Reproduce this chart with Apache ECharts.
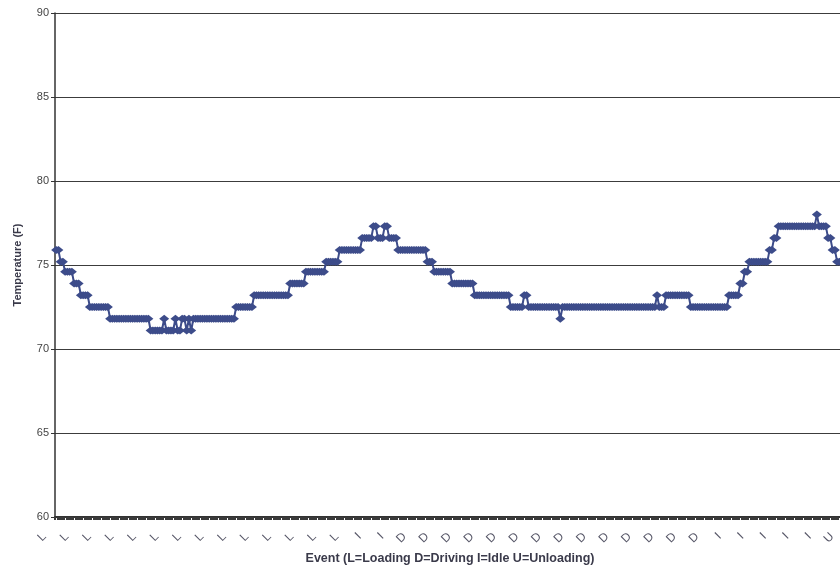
<!DOCTYPE html>
<html>
<head>
<meta charset="utf-8">
<script src="https://cdn.jsdelivr.net/npm/echarts@6/dist/echarts.min.js"></script>
<style>
    html, body { margin: 0; padding: 0; overflow: hidden; background: #fff; }
    #chart { width: 860px; height: 567px; }
</style>
</head>
<body>
<div id="chart"></div>
<script>
// temperature readings as [value, number of points in a row]
var tempRuns = [
    [75.9, 2], [75.2, 2], [74.6, 4], [73.9, 3], [73.2, 4], [72.5, 9], [71.8, 18],
    [71.1, 6], [71.8, 1], [71.1, 4], [71.8, 1], [71.1, 2], [71.8, 2], [71.1, 1],
    [71.8, 1], [71.1, 1], [71.8, 19], [72.5, 8], [73.2, 16], [73.9, 7], [74.6, 9],
    [75.2, 6], [75.9, 10], [76.6, 5], [77.3, 2], [76.6, 3], [77.3, 2], [76.6, 4],
    [75.9, 13], [75.2, 3], [74.6, 8], [73.9, 10], [73.2, 16], [72.5, 6], [73.2, 2],
    [72.5, 14], [71.8, 1], [72.5, 42], [73.2, 1], [72.5, 3], [73.2, 11], [72.5, 17],
    [73.2, 5], [73.9, 2], [74.6, 2], [75.2, 9], [75.9, 2], [76.6, 2], [77.3, 17],
    [78.0, 1], [77.3, 4], [76.6, 2], [75.9, 2], [75.2, 4]
];
// event of each reading (L=Loading D=Driving I=Idle U=Unloading)
var eventRuns = [['L', 140], ['I', 20], ['D', 140], ['I', 50], ['U', 1]];
var yTicks = [60, 65, 70, 75, 80, 85, 90];

function unrun(runs) {
    var out = [];
    runs.forEach(function (r) {
        for (var k = 0; k < r[1]; k++) out.push(r[0]);
    });
    return out;
}
var temps = unrun(tempRuns);
var events = unrun(eventRuns);

var myChart = echarts.init(document.getElementById('chart'));
var option = {
    animation: false,
    textStyle: { fontFamily: 'Liberation Sans, Arial, sans-serif' },
    grid: { left: 55, right: 15, top: 13, bottom: 50, outerBoundsMode: 'none', containLabel: false },
    xAxis: {
        type: 'category',
        data: events,
        name: 'Event (L=Loading D=Driving I=Idle U=Unloading)',
        nameLocation: 'middle',
        nameGap: 34,
        nameTextStyle: { fontSize: 12.5, fontWeight: 'bold', color: '#3a3a4a' },
        axisLine: { lineStyle: { color: '#333', width: 2 } },
        axisTick: { show: true, interval: 0, length: 3, lineStyle: { color: '#3a3a3a', width: 2 } },
        axisLabel: {
            interval: 9,
            rotate: 45,
            margin: 6,
            fontSize: 12,
            color: '#556',
            formatter: function (v) { return v + '     '; }
        }
    },
    yAxis: {
        type: 'value',
        min: yTicks[0],
        max: yTicks[yTicks.length - 1],
        interval: 5,
        name: 'Temperature (F)',
        nameLocation: 'middle',
        nameGap: 32,
        nameTextStyle: { fontSize: 11, fontWeight: 'bold', color: '#3a3a4a' },
        axisLine: { show: true, lineStyle: { color: '#333', width: 1.5 } },
        axisTick: { show: true, length: 4, lineStyle: { color: '#333' } },
        axisLabel: { fontSize: 11, color: '#444', margin: 6 },
        splitLine: { lineStyle: { color: '#3c3c3c', width: 1.2 } }
    },
    series: [{
        type: 'line',
        data: temps,
        symbol: 'diamond',
        symbolSize: [10, 8],
        showSymbol: true,
        showAllSymbol: true,
        lineStyle: { color: '#3d4c8a', width: 2 },
        itemStyle: { color: '#3d4c8a' }
    }]
};
myChart.setOption(option);
</script>
</body>
</html>
